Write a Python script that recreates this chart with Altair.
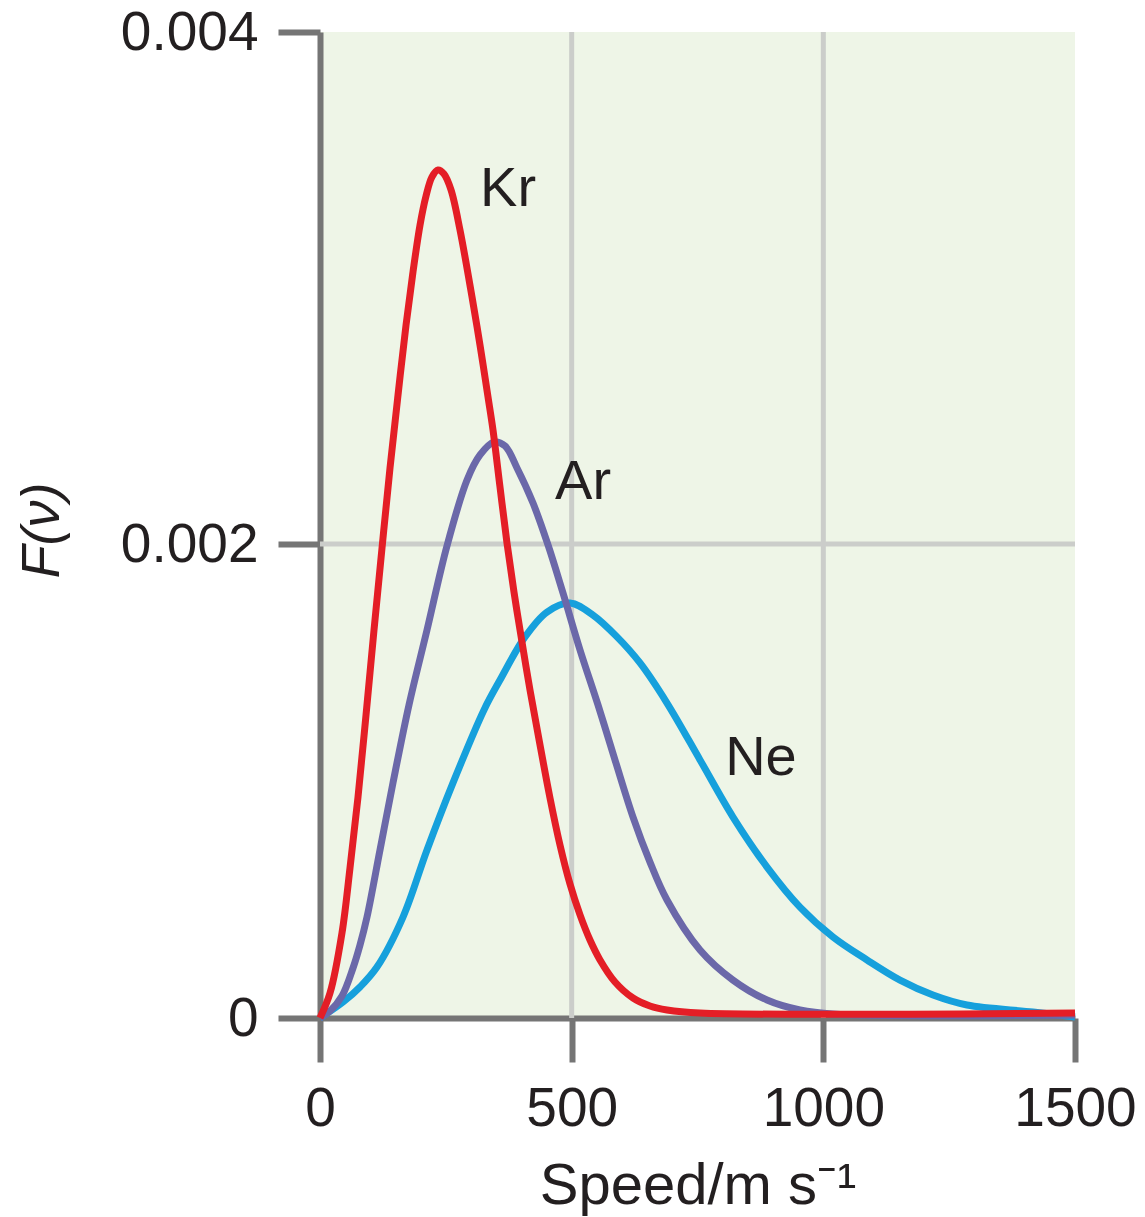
import altair as alt
import pandas as pd

# ---- data (speed in m/s, F(v) in s/m) ----
kr_v = [0, 19.9, 43.7, 59.6, 75.5, 91.4, 107.3, 123.2, 139.1, 155.0, 170.9, 184.8,
        198.7, 210.6, 222.5, 234.4, 246.4, 260.3, 278.1, 302.0, 317.9, 333.8, 343.7,
        357.6, 371.5, 385.4, 397.4, 417.2, 437.1, 457.0, 476.8, 496.7, 516.6, 536.4,
        556.3, 586.1, 621.9, 655.6, 689.4, 755.0, 1500]
kr_F = [0, 0.000105, 0.000359, 0.000633, 0.000932, 0.001278, 0.001637, 0.001983,
        0.002297, 0.002582, 0.002855, 0.003063, 0.003246, 0.003359, 0.003434, 0.003461,
        0.003445, 0.003383, 0.003227, 0.002965, 0.002777, 0.002574, 0.002445, 0.002223,
        0.002004, 0.001797, 0.001637, 0.001384, 0.001152, 0.000928, 0.000730, 0.000565,
        0.000435, 0.000329, 0.000245, 0.000152, 0.0000844, 0.0000506, 0.0000338,
        0.0000211, 0.0000211]

ar_v = [0, 19.9, 43.7, 65.6, 79.5, 93.4, 119.2, 145.0, 176.8, 212.6, 252.3, 292.1,
        317.9, 345.7, 367.5, 391.4, 423.2, 453.0, 482.8, 516.6, 552.3, 586.1, 621.9,
        655.6, 689.4, 755.0, 820.5, 888.1, 953.6, 1019.2, 1500]
ar_F = [0, 0.0000295, 0.0000928, 0.000211, 0.000308, 0.000426, 0.000709, 0.000992,
        0.001321, 0.001637, 0.001992, 0.002250, 0.002348, 0.002398, 0.002383, 0.002297,
        0.002160, 0.001996, 0.001793, 0.001553, 0.001321, 0.001089, 0.000848, 0.000658,
        0.000498, 0.000287, 0.000160, 0.0000759, 0.0000338, 0.0000169, 0.0000127]

ne_v = [0, 45.7, 79.5, 113.2, 164.9, 212.6, 264.2, 325.8, 357.6, 407.3, 451.0, 496.7,
        542.4, 590.1, 635.8, 689.4, 755.0, 820.5, 888.1, 953.6, 1019.2, 1086.8, 1152.3,
        1217.9, 1285.4, 1416.6, 1500]
ne_F = [0, 0.0000675, 0.000131, 0.000215, 0.000426, 0.000709, 0.000992, 0.001300,
        0.001426, 0.001608, 0.001713, 0.001751, 0.001700, 0.001608, 0.001498, 0.001329,
        0.001089, 0.000848, 0.000637, 0.000468, 0.000342, 0.000245, 0.000160, 0.0000970,
        0.0000549, 0.0000253, 0.0000042]

gases = ["Ne", "Ar", "Kr"]          # drawing order: bottom to top
colors = ["#16a0dc", "#6b68a9", "#e41e26"]

label_text = ["Kr", "Ar", "Ne"]
label_v = [318, 467, 805]
label_F = [0.003387, 0.002242, 0.001095]

x_ticks = [0, 500, 1000, 1500]
y_ticks = [0, 0.002, 0.004]
grid_x = [500, 1000]
grid_y = [0.002]

# ---- tables ----
rows = []
for g, vs, fs in (("Ne", ne_v, ne_F), ("Ar", ar_v, ar_F), ("Kr", kr_v, kr_F)):
    for v, f in zip(vs, fs):
        rows.append({"gas": g, "v": v, "F": f, "order": gases.index(g)})
curves = pd.DataFrame(rows)
labels = pd.DataFrame({"text": label_text, "v": label_v, "F": label_F})
gx = pd.DataFrame({"v": grid_x})
gy = pd.DataFrame({"F": grid_y})

W, H = 755, 986
xscale = alt.Scale(domain=[0, 1500], nice=False, zero=False)
yscale = alt.Scale(domain=[0, 0.002, 0.004], range=[H, 512, 0], nice=False)

FONT = "Liberation Sans"
TXT = "#231f20"
AX = "#757575"

x_axis = alt.Axis(
    values=x_ticks, format="d", grid=False,
    domainColor=AX, domainWidth=6, tickColor=AX, tickWidth=6, tickSize=44,
    labelFont=FONT, labelFontSize=55, labelColor=TXT, labelPadding=20,
    labelFlush=False, labelOverlap=False,
    title="Speed/m s\u207b\u00b9", titleFont=FONT, titleFontSize=58,
    titleFontWeight="normal", titleColor=TXT, titleBaseline="alphabetic",
    titleY=185, titleX=W / 2, titleAlign="center",
)
y_axis = alt.Axis(
    values=y_ticks, format="~g", grid=False,
    domainColor=AX, domainWidth=6, tickColor=AX, tickWidth=6, tickSize=42,
    labelFont=FONT, labelFontSize=55, labelColor=TXT, labelPadding=20,
    labelFlush=False, labelOverlap=False,
    title="F(\u03bd)", titleFont=FONT, titleFontSize=54, titleFontStyle="italic",
    titleFontWeight="normal", titleColor=TXT, titleAngle=-90,
    titleBaseline="alphabetic", titleX=-262, titleY=H / 2 + 5, titleAlign="center",
)

grid_v = alt.Chart(gx).mark_rule(color="#cbcdca", strokeWidth=5).encode(
    x=alt.X("v:Q", scale=xscale, axis=x_axis)
)
grid_h = alt.Chart(gy).mark_rule(color="#cbcdca", strokeWidth=5).encode(
    y=alt.Y("F:Q", scale=yscale, axis=y_axis)
)

lines = alt.Chart(curves).mark_line(strokeWidth=7, interpolate="catmull-rom").encode(
    x=alt.X("v:Q", scale=xscale, axis=x_axis),
    y=alt.Y("F:Q", scale=yscale, axis=y_axis),
    color=alt.Color("gas:N", scale=alt.Scale(domain=gases, range=colors), legend=None),
    detail="gas:N",
    order="order:Q",
)

text = alt.Chart(labels).mark_text(
    font=FONT, fontSize=56, color=TXT, align="left", baseline="middle"
).encode(
    x=alt.X("v:Q", scale=xscale),
    y=alt.Y("F:Q", scale=yscale),
    text="text:N",
)

chart = alt.layer(grid_v, grid_h, lines, text).properties(
    width=W, height=H,
    autosize=alt.AutoSizeParams(type="none"),
    padding={"left": 320, "top": 32, "right": 70, "bottom": 199},
    background="white",
).configure_view(fill="#eef5e7", stroke=None)

chart.save("out.html", embed_options={"renderer": "svg", "actions": False})
